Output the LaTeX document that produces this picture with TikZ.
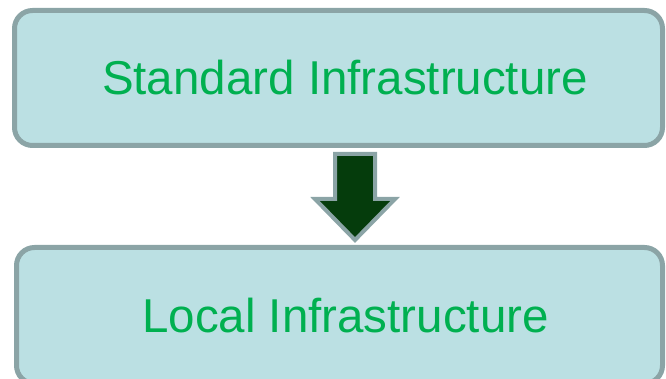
\documentclass[tikz,border=0pt]{standalone}
\usepackage{fontspec}
\setmainfont{Liberation Sans}
\usetikzlibrary{positioning}
\usetikzlibrary{calc}

\definecolor{boxfill}{RGB}{187,224,227}
\definecolor{boxline}{RGB}{139,164,166}
\definecolor{labelgreen}{RGB}{0,176,80}
\definecolor{arrowfill}{RGB}{5,60,12}

\begin{document}
\begin{tikzpicture}[x=1pt,y=1pt]
  \tikzset{infrabox/.style={minimum width=#1,minimum height=135pt,fill=boxfill,draw=boxline,
             line width=5pt,rounded corners=18pt,text=labelgreen,text height=34pt,text depth=0pt,
             font=\fontsize{47.5}{57}\selectfont},
           flowarrow/.style={fill=arrowfill,draw=boxline,line width=4pt,line join=miter}}
  \useasboundingbox (0,0) rectangle (666,379);
  \begin{scope}
  \clip (0,0) rectangle (666,379);
  \node[infrabox=648pt] (standard) at (338.5,301) {\hspace*{13pt}Standard Infrastructure};
  \node[infrabox=646pt,minimum height=136pt] (local) at (339.5,63.5) {\hspace*{12pt}Local Infrastructure};
  \end{scope}
  \draw[flowarrow] (335,225) -- (375,225) -- (375,180) -- (395,180) -- (355,139)
    -- (315,180) -- (335,180) -- cycle;
\end{tikzpicture}
\end{document}
